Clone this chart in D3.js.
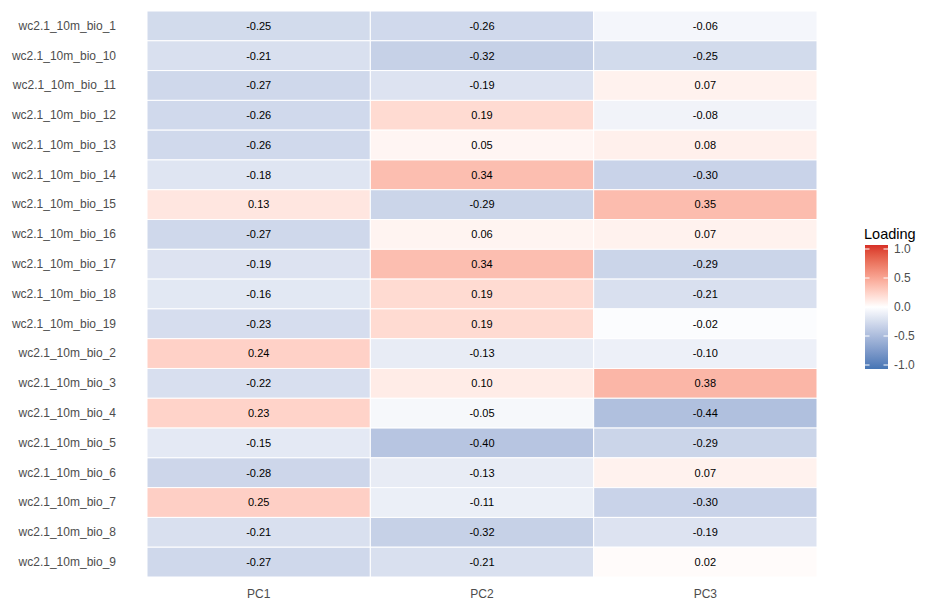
<!DOCTYPE html>
<html>
<head>
<meta charset="UTF-8">
<style>
  body { margin: 0; background: #fff; font-family: "Liberation Sans", Arial, sans-serif; }
</style>
</head>
<body>
<svg id="chart" width="937" height="609"></svg>
<script src="https://d3js.org/d3.v7.min.js"></script>
<script>
const variables = ["wc2.1_10m_bio_1","wc2.1_10m_bio_10","wc2.1_10m_bio_11","wc2.1_10m_bio_12","wc2.1_10m_bio_13",
  "wc2.1_10m_bio_14","wc2.1_10m_bio_15","wc2.1_10m_bio_16","wc2.1_10m_bio_17","wc2.1_10m_bio_18","wc2.1_10m_bio_19",
  "wc2.1_10m_bio_2","wc2.1_10m_bio_3","wc2.1_10m_bio_4","wc2.1_10m_bio_5","wc2.1_10m_bio_6","wc2.1_10m_bio_7",
  "wc2.1_10m_bio_8","wc2.1_10m_bio_9"];
const components = ["PC1", "PC2", "PC3"];
const pc1 = [-0.25,-0.21,-0.27,-0.26,-0.26,-0.18,0.13,-0.27,-0.19,-0.16,-0.23,0.24,-0.22,0.23,-0.15,-0.28,0.25,-0.21,-0.27];
const pc2 = [-0.26,-0.32,-0.19,0.19,0.05,0.34,-0.29,0.06,0.34,0.19,0.19,-0.13,0.10,-0.05,-0.40,-0.13,-0.11,-0.32,-0.21];
const pc3 = [-0.06,-0.25,0.07,-0.08,0.08,-0.30,0.35,0.07,-0.29,-0.21,-0.02,-0.10,0.38,-0.44,-0.29,0.07,-0.30,-0.19,0.02];
const legendTicks = [1.0, 0.5, 0.0, -0.5, -1.0];

const series = [pc1, pc2, pc3];
const cells = [];
components.forEach((c, j) => variables.forEach((v, i) => cells.push({ pc: c, v: v, val: series[j][i] })));

const svg = d3.select("#chart");
const x = d3.scaleBand().domain(components).range([147, 817]).padding(0);
const y = d3.scaleBand().domain(variables).range([11, 577]).padding(0);
const color = d3.scaleLinear().domain([-1, 0, 1]).range(["#4575B4", "#ffffff", "#D73027"]).interpolate(d3.interpolateLab);

svg.append("g").selectAll("rect").data(cells).join("rect")
  .attr("x", d => x(d.pc)).attr("y", d => y(d.v))
  .attr("width", x.bandwidth()).attr("height", y.bandwidth())
  .attr("fill", d => color(d.val))
  .attr("stroke", "#fff").attr("stroke-width", 1);

svg.append("g").selectAll("text").data(cells).join("text")
  .attr("x", d => x(d.pc) + x.bandwidth() / 2)
  .attr("y", d => y(d.v) + y.bandwidth() / 2)
  .attr("dy", "0.35em").attr("text-anchor", "middle")
  .attr("font-size", 11).attr("fill", "#000")
  .text(d => d3.format(".2f")(d.val).replace("−", "-"));

const yAxis = svg.append("g").attr("transform", "translate(147,0)")
  .call(d3.axisLeft(y).tickSize(0).tickPadding(31));
const xAxis = svg.append("g").attr("transform", "translate(0,577)")
  .call(d3.axisBottom(x).tickSize(0).tickPadding(12));
[xAxis, yAxis].forEach(a => {
  a.select(".domain").remove();
  a.selectAll("text").attr("fill", "#4d4d4d").attr("font-size", 12)
    .attr("font-family", "Liberation Sans, Arial, sans-serif");
});

// legend
const lg = svg.append("g");
lg.append("text").attr("x", 864).attr("y", 239).attr("font-size", 14.5).attr("fill", "#000").text("Loading");
const defs = svg.append("defs");
const grad = defs.append("linearGradient").attr("id", "lgrad").attr("x1", 0).attr("y1", 1).attr("x2", 0).attr("y2", 0);
d3.range(0, 1.001, 0.05).forEach(t => grad.append("stop").attr("offset", t).attr("stop-color", color(-1 + 2 * t)));
const ly = d3.scaleLinear().domain([-1, 1]).range([365, 249]);
lg.append("rect").attr("x", 865).attr("y", 245).attr("width", 23).attr("height", 124).attr("fill", "url(#lgrad)");
legendTicks.forEach(t => {
  lg.append("line").attr("x1", 865).attr("x2", 869.5).attr("y1", ly(t)).attr("y2", ly(t)).attr("stroke", "#fff");
  lg.append("line").attr("x1", 883.5).attr("x2", 888).attr("y1", ly(t)).attr("y2", ly(t)).attr("stroke", "#fff");
  lg.append("text").attr("x", 894).attr("y", ly(t)).attr("dy", "0.35em")
    .attr("font-size", 12).attr("fill", "#4d4d4d").text(d3.format(".1f")(t).replace("−", "-"));
});
</script>
</body>
</html>
